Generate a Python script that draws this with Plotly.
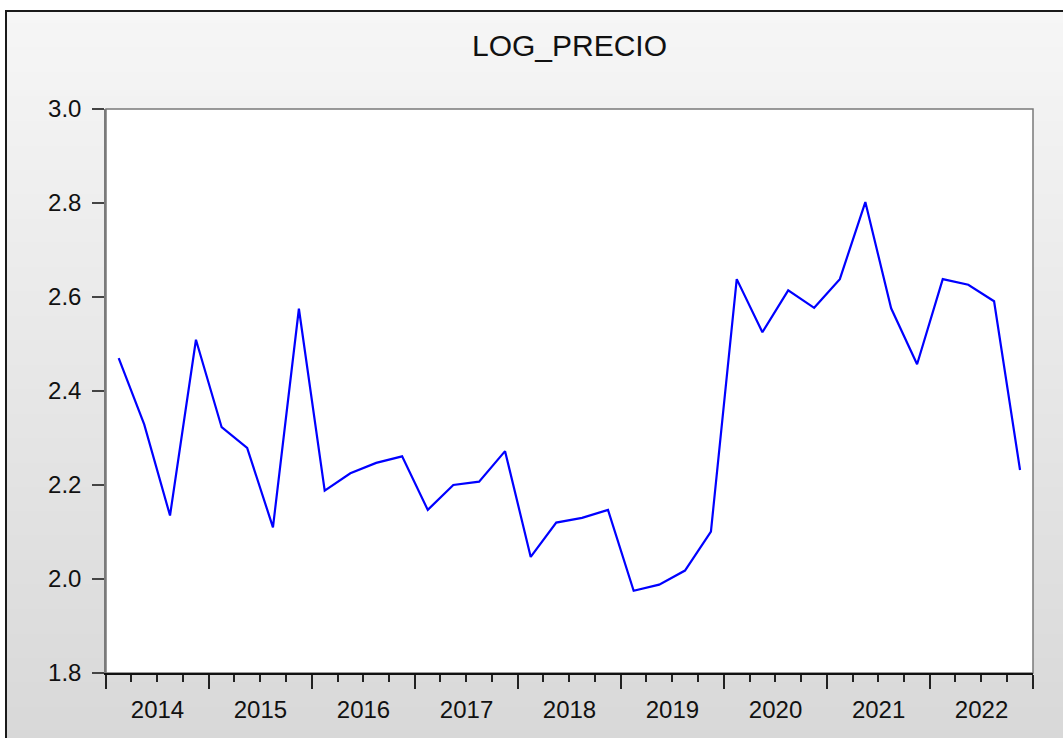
import pandas as pd
import plotly.graph_objects as go

# Serie trimestral LOG_PRECIO, 2014T1 - 2022T4
trimestres = [f"{a}Q{q}" for a in range(2014, 2023) for q in range(1, 5)]

log_precio = [
    2.470, 2.329, 2.135, 2.509,
    2.323, 2.279, 2.110, 2.575,
    2.188, 2.225, 2.247, 2.261,
    2.147, 2.200, 2.207, 2.272,
    2.047, 2.120, 2.130, 2.147,
    1.975, 1.988, 2.018, 2.101,
    2.638, 2.525, 2.614, 2.577,
    2.638, 2.802, 2.576, 2.457,
    2.638, 2.626, 2.591, 2.232,
]

titulo = "LOG_PRECIO"
y_ticks = [1.8, 2.0, 2.2, 2.4, 2.6, 2.8, 3.0]

# cada observacion se dibuja en la mitad de su trimestre (estilo EViews)
periodos = pd.PeriodIndex(trimestres, freq="Q")
fechas = periodos.start_time + (periodos.end_time - periodos.start_time) / 2

W, H = 1063, 738
L, R, T, B = 106, 30, 109, 65
pw, ph = W - L - R, H - T - B


def px(x):
    return (x - L) / pw


def py(y):
    return (H - B - y) / ph


fuente = "Liberation Sans, Arial, sans-serif"

# fondo degradado del marco exterior (franjas solapadas para evitar costuras)
shapes = []
n = 60
y_top, y_bot = 11, H + 5
for i in range(n):
    y0 = y_top + (y_bot - y_top) * i / n
    y1 = y_top + (y_bot - y_top) * (i + 1) / n + 2
    t = (i + 0.5) / n
    g = round(246 - t * 30)
    shapes.append(dict(
        type="rect", xref="paper", yref="paper", layer="below",
        x0=px(6), x1=px(W + 10), y0=py(y1), y1=py(y0),
        fillcolor=f"rgb({g},{g},{g})", line=dict(width=0)
    ))

# area del grafico en blanco
shapes.append(dict(
    type="rect", xref="x domain", yref="y domain", layer="below",
    x0=0, x1=1, y0=0, y1=1,
    fillcolor="white", line=dict(color="#7a7a7a", width=1.5)
))

# borde negro exterior
shapes.append(dict(
    type="rect", xref="paper", yref="paper", layer="below",
    x0=px(6), x1=px(W + 10), y0=py(y_bot), y1=py(y_top),
    fillcolor="rgba(0,0,0,0)", line=dict(color="#1a1a1a", width=2)
))

fig = go.Figure()

fig.add_trace(go.Scatter(
    x=fechas,
    y=log_precio,
    mode="lines",
    line=dict(color="#0000ff", width=2.2),
    name=titulo,
    hovertemplate="%{x|%Y-%m}<br>%{y:.3f}<extra></extra>"
))

fig.update_layout(
    width=W,
    height=H,
    margin=dict(l=L, r=R, t=T, b=B),
    paper_bgcolor="white",
    plot_bgcolor="rgba(0,0,0,0)",
    showlegend=False,
    shapes=shapes,
    font=dict(family=fuente, color="#111111", size=24),
    title=dict(
        text=titulo,
        x=0.5, xref="paper", xanchor="center",
        y=1 - 45 / H, yref="container", yanchor="middle",
        font=dict(family=fuente, size=30, color="#111111")
    )
)

fig.update_xaxes(
    type="date",
    range=[periodos[0].start_time, periodos[-1].end_time + pd.Timedelta(seconds=1)],
    dtick="M12",
    tick0="2014-01-01",
    tickformat="%Y",
    ticklabelmode="period",
    ticks="outside",
    ticklen=14,
    tickwidth=1.5,
    tickcolor="#222222",
    minor=dict(dtick="M3", ticks="outside", ticklen=7, tickwidth=1.5, tickcolor="#222222"),
    showline=True,
    linecolor="#111111",
    linewidth=1.5,
    showgrid=False,
    zeroline=False,
    tickfont=dict(size=24),
    fixedrange=True
)

fig.update_yaxes(
    range=[1.8, 3.0],
    tickvals=y_ticks,
    tickformat=".1f",
    ticks="outside",
    ticklen=12,
    tickwidth=1.5,
    tickcolor="#444444",
    ticklabelstandoff=6,
    showline=True,
    linecolor="#7a7a7a",
    linewidth=1.5,
    showgrid=False,
    zeroline=False,
    tickfont=dict(size=24),
    fixedrange=True
)

# sin margen del <body> para que la figura ocupe toda la ventana
fig.write_html(
    "out.html",
    config={"displayModeBar": False},
    post_script="document.body.style.margin='0';document.body.style.overflow='hidden';"
)
